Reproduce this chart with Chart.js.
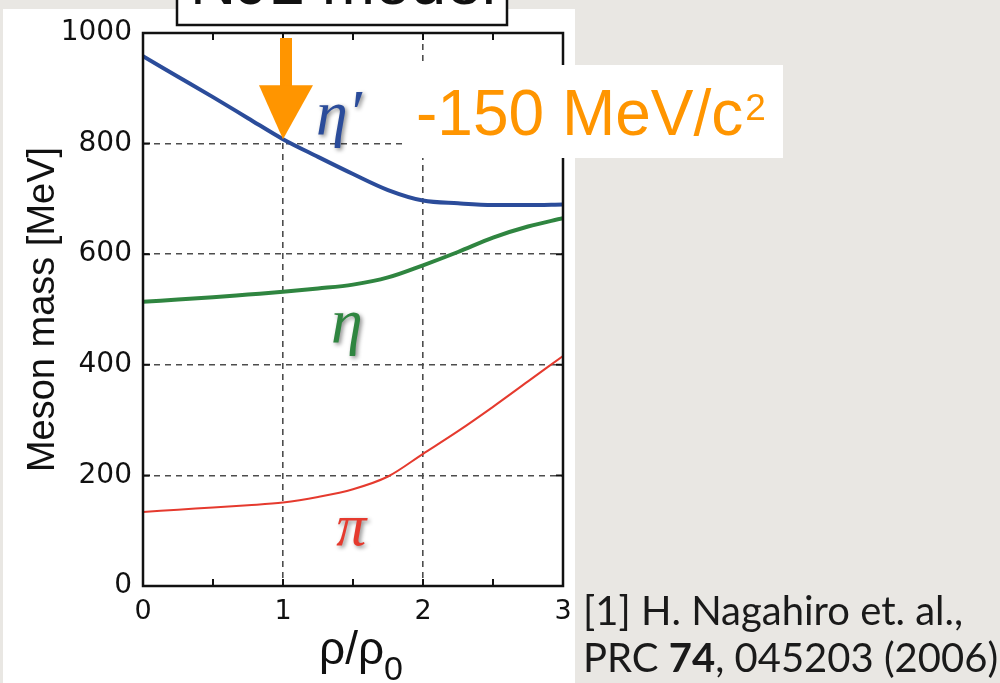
<!DOCTYPE html>
<html lang="en">
<head>
<meta charset="UTF-8">
<title>Meson mass vs density</title>
<style>
  body { margin: 0; background: #e9e7e3; }
  canvas { display: block; }
</style>
</head>
<body>
<canvas id="massChart" width="1000" height="683"></canvas>

<script src="https://cdn.jsdelivr.net/npm/chart.js@4"></script>

<script>
// density rho/rho0 and meson masses in MeV
const rho = [0, 0.25, 0.5, 0.75, 1, 1.25, 1.5, 1.75, 2, 2.25, 2.5, 2.75, 3];
const etaPrimeMass = [958, 921, 884, 846, 808, 776, 745, 716, 697, 692, 689, 689, 690];
const etaMass = [514, 518, 522, 527, 532, 538, 545, 558, 580, 604, 630, 650, 665];
const pionMass = [134, 138, 142, 146, 151, 161, 175, 198, 239, 280, 324, 370, 416];

const xTickLabels = [0, 1, 2, 3];
const dashedX = [1, 2];
const dashedY = [200, 400, 600, 800];

const massShift = -150;   // eta' shift at rho0
const refLine1 = '[1] H. Nagahiro et. al.,';
const refLine2 = ['PRC ', '74', ', 045203 (2006)'];

const pts = (ys) => rho.map((x, i) => ({x: x, y: ys[i]}));

// text labels next to the curves, in data units
const curveNames = [
  {text: 'η′', color: '#2b4c9a', x: 1.236, y: 817, size: 64},
  {text: 'η', color: '#2f8540', x: 1.343, y: 441, size: 64},
  {text: 'π', color: '#e53a2e', x: 1.38, y: 74, size: 60}
];

const decor = {
  id: 'decor',
  beforeDraw(chart) {
    const ctx = chart.ctx;
    ctx.save();
    ctx.fillStyle = '#e9e7e3';
    ctx.fillRect(0, 0, chart.width, chart.height);
    ctx.fillStyle = '#ffffff';
    ctx.fillRect(3, 9, 572, chart.height - 9);
    ctx.restore();
  },
  afterDraw(chart) {
    const ctx = chart.ctx;
    const a = chart.chartArea;
    const xs = chart.scales.x, ys = chart.scales.y;
    ctx.save();

    // frame and inward ticks
    ctx.strokeStyle = '#111';
    ctx.lineWidth = 2.5;
    ctx.strokeRect(a.left, a.top, a.right - a.left, a.bottom - a.top);
    ctx.lineWidth = 2;
    ctx.beginPath();
    xs.ticks.forEach(t => {
      if (t.value <= xs.min || t.value >= xs.max) return;
      const px = xs.getPixelForValue(t.value);
      ctx.moveTo(px, a.top); ctx.lineTo(px, a.top + 7);
      ctx.moveTo(px, a.bottom); ctx.lineTo(px, a.bottom - 7);
    });
    ys.ticks.forEach(t => {
      if (t.value <= ys.min || t.value >= ys.max) return;
      const py = ys.getPixelForValue(t.value);
      ctx.moveTo(a.left, py); ctx.lineTo(a.left + 7, py);
      ctx.moveTo(a.right, py); ctx.lineTo(a.right - 7, py);
    });
    ctx.stroke();

    // x axis title rho/rho0
    ctx.fillStyle = '#111';
    ctx.textBaseline = 'alphabetic';
    ctx.textAlign = 'left';
    ctx.font = '46px "Liberation Sans"';
    const main = 'ρ/ρ';
    const wMain = ctx.measureText(main).width;
    ctx.font = '34px "Liberation Sans"';
    const wSub = ctx.measureText('0').width;
    let tx = (a.left + a.right) / 2 + 8 - (wMain + wSub) / 2;
    ctx.font = '46px "Liberation Sans"';
    ctx.fillText(main, tx, 664);
    ctx.font = '34px "Liberation Sans"';
    ctx.fillText('0', tx + wMain, 680);

    // model name box at the top
    ctx.fillStyle = '#fff';
    ctx.fillRect(177, -5, 330, 30);
    ctx.strokeStyle = '#111';
    ctx.lineWidth = 2.5;
    ctx.strokeRect(177, -5, 330, 30);
    ctx.fillStyle = '#111';
    ctx.textAlign = 'center';
    ctx.font = '64px "Liberation Sans"';
    ctx.fillText('NJL model', 343, 4);

    // mass shift label
    ctx.fillStyle = '#fff';
    ctx.fillRect(407, 65, 376, 93);
    ctx.fillStyle = '#ff9500';
    ctx.textAlign = 'left';
    ctx.font = '64px "Liberation Sans"';
    const shiftText = massShift + ' MeV/c';
    ctx.fillText(shiftText, 416, 135);
    const wShift = ctx.measureText(shiftText).width;
    ctx.font = '37px "Liberation Sans"';
    ctx.fillText('2', 416 + wShift + 2, 120);

    // arrow pointing at eta' at rho = rho0
    const tipX = xs.getPixelForValue(1);
    const tipY = ys.getPixelForValue(etaPrimeMass[rho.indexOf(1)]);
    const cx = tipX + 3;
    ctx.fillStyle = '#ff9500';
    ctx.fillRect(cx - 6, a.top + 5, 12, tipY - 54 - a.top - 4);
    ctx.beginPath();
    ctx.moveTo(cx - 27, tipY - 54);
    ctx.lineTo(cx + 27, tipY - 54);
    ctx.lineTo(tipX, tipY);
    ctx.closePath();
    ctx.fill();

    // curve names with soft shadow
    curveNames.forEach(n => {
      ctx.save();
      ctx.shadowColor = 'rgba(0,0,0,0.45)';
      ctx.shadowBlur = 4;
      ctx.shadowOffsetX = 2;
      ctx.shadowOffsetY = 2;
      ctx.fillStyle = n.color;
      ctx.textAlign = 'left';
      ctx.font = 'italic ' + n.size + 'px "Liberation Serif", "DejaVu Serif"';
      ctx.fillText(n.text, xs.getPixelForValue(n.x), ys.getPixelForValue(n.y));
      ctx.restore();
    });

    // reference
    ctx.fillStyle = '#1a1a1a';
    ctx.textAlign = 'left';
    ctx.font = '40px Lato';
    ctx.fillText(refLine1, 583, 625);
    let rx = 583;
    refLine2.forEach((s, i) => {
      ctx.font = (i === 1 ? 'bold ' : '') + '40px Lato';
      ctx.fillText(s, rx, 672);
      rx += ctx.measureText(s).width;
    });

    ctx.restore();
  }
};

const lineStyle = (color, width) => ({
  borderColor: color,
  borderWidth: width,
  pointRadius: 0,
  cubicInterpolationMode: 'monotone',
  fill: false
});

new Chart(document.getElementById('massChart'), {
  type: 'line',
  data: {
    datasets: [
      Object.assign({label: "eta'", data: pts(etaPrimeMass)}, lineStyle('#2b4c9a', 4)),
      Object.assign({label: 'eta', data: pts(etaMass)}, lineStyle('#2f8540', 4)),
      Object.assign({label: 'pi', data: pts(pionMass)}, lineStyle('#e53a2e', 2))
    ]
  },
  options: {
    responsive: false,
    devicePixelRatio: 1,
    animation: false,
    layout: {padding: {top: 33, right: 437, left: 0, bottom: 0}},
    plugins: {legend: {display: false}, tooltip: {enabled: false}},
    scales: {
      x: {
        type: 'linear',
        min: 0,
        max: 3,
        ticks: {
          stepSize: 0.5,
          font: {family: 'DejaVu Sans', size: 27},
          color: '#111',
          padding: 10,
          maxRotation: 0,
          autoSkip: false,
          callback: v => xTickLabels.includes(v) ? String(v) : ''
        },
        grid: {
          drawTicks: false,
          lineWidth: 1.6,
          color: c => dashedX.includes(c.tick.value) ? '#4d4d4d' : 'rgba(0,0,0,0)'
        },
        border: {display: false, dash: [6, 5]},
        afterFit: s => { s.height = 97; }
      },
      y: {
        min: 0,
        max: 1000,
        ticks: {
          stepSize: 200,
          font: {family: 'DejaVu Sans', size: 28},
          color: '#111',
          padding: 11,
          callback: v => String(v)
        },
        grid: {
          drawTicks: false,
          lineWidth: 1.6,
          color: c => dashedY.includes(c.tick.value) ? '#4d4d4d' : 'rgba(0,0,0,0)'
        },
        border: {display: false, dash: [6, 5]},
        title: {
          display: true,
          text: 'Meson mass [MeV]',
          font: {family: 'Liberation Sans', size: 38},
          color: '#111',
          padding: {top: 21, bottom: 0}
        },
        afterFit: s => { s.width = 143; }
      }
    }
  },
  plugins: [decor]
});
</script>
</body>
</html>
